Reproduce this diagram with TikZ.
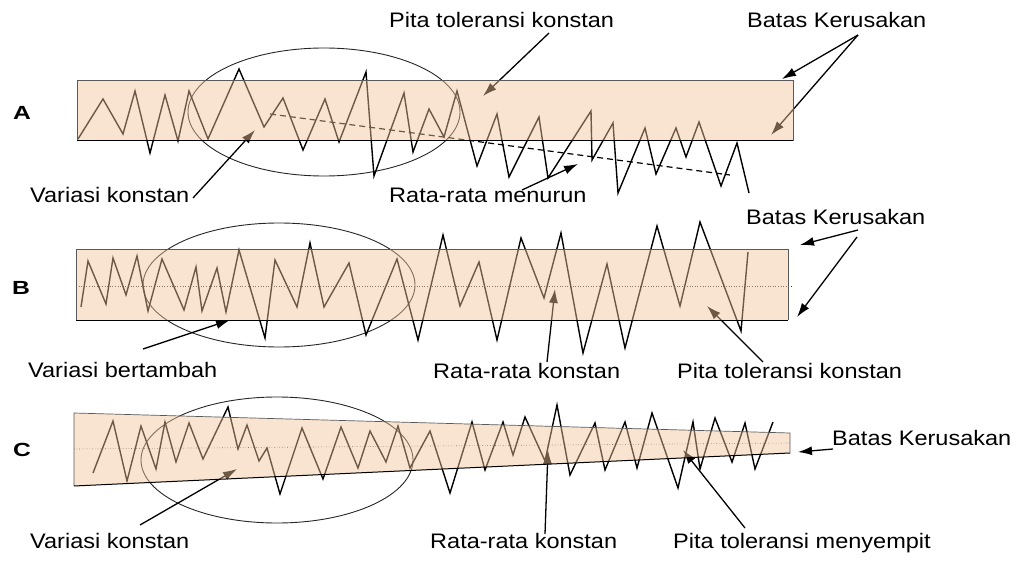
\documentclass[tikz,border=0pt]{standalone}
\usepackage{fontspec}
\setmainfont{Liberation Sans}
\newfontfamily\labfont[FakeStretch=1.12]{Liberation Sans}
\newfontfamily\letfont[FakeStretch=1.3]{Liberation Sans}
\usetikzlibrary{arrows.meta}
\definecolor{bandc}{RGB}{239,196,152}
\begin{document}
\begin{tikzpicture}[x=1pt,y=-1pt,
  lab/.style={anchor=base west, inner sep=0pt, font=\labfont\fontsize{21}{25}\selectfont},
  letter/.style={inner sep=0pt, font=\letfont\bfseries\fontsize{19}{22}\selectfont},
  zz/.style={line width=1.4pt},
  ell/.style={line width=0.9pt, black!85},
  arr/.style={line width=1.3pt, -{Latex[length=14pt,width=9pt]}},
  band/.style={fill=bandc, fill opacity=0.46},
  edge/.style={draw=black!65, line width=0.7pt},
  midl/.style={dotted, line width=0.6pt, black!80},
]
\useasboundingbox (0,0) rectangle (1019,561);

% ---------- labels ----------
\node[letter] (LA) at (22,113) {A};
\node[letter] (LB) at (21,288) {B};
\node[letter] (LC) at (22,450) {C};

\node[lab] (tA1) at (389,28) {Pita toleransi konstan};
\node[lab] (tA2) at (747,28) {Batas Kerusakan};
\node[lab] (tA3) at (30,203) {Variasi konstan};
\node[lab] (tA4) at (389,203) {Rata-rata menurun};

\node[lab] (tB1) at (746,225) {Batas Kerusakan};
\node[lab] (tB2) at (28,377) {Variasi bertambah};
\node[lab] (tB3) at (433,378) {Rata-rata konstan};
\node[lab] (tB4) at (677,378) {Pita toleransi konstan};

\node[lab] (tC1) at (832,445) {Batas Kerusakan};
\node[lab] (tC2) at (30,548) {Variasi konstan};
\node[lab] (tC3) at (430,548) {Rata-rata konstan};
\node[lab] (tC4) at (673,548) {Pita toleransi menyempit};

% ---------- arrow coordinates ----------
\coordinate (sA1) at (549,33);  \coordinate (hA1) at (483,96);
\coordinate (sA2) at (858,35);  \coordinate (hA2a) at (782,79); \coordinate (hA2b) at (771,135);
\coordinate (sA3) at (193,198); \coordinate (hA3) at (255,130);
\coordinate (sA4) at (522,190); \coordinate (hA4) at (578,164);

\coordinate (sB1a) at (858,230); \coordinate (hB1a) at (800,245);
\coordinate (sB1b) at (857,237); \coordinate (hB1b) at (797,317);
\coordinate (sB2) at (143,349);  \coordinate (hB2) at (230,320);
\coordinate (sB3) at (547,362);  \coordinate (hB3) at (555,289);
\coordinate (sB4) at (763,362);  \coordinate (hB4) at (707,306);

\coordinate (sC1) at (833,449);  \coordinate (hC1) at (798,452);
\coordinate (sC2) at (140,525);  \coordinate (hC2) at (237,469);
\coordinate (sC3) at (545,534);  \coordinate (hC3) at (548,450);
\coordinate (sC4) at (745,528);  \coordinate (hC4) at (683,450);

% ---------- panel A ----------
\draw[ell] (324,112) ellipse [x radius=136pt, y radius=64pt];
\draw[zz] (78,139)--(103,99)--(123,134)--(135,91)--(150,153)--(165,95)--(178,141)--(189,91)--(208,139)--(239,69)--(264,127)--(283,98)--(303,150)--(325,99)--(339,142)--(366,72)--(374,176)--(404,93)--(413,152)--(429,109)--(444,137)--(457,91)--(477,166)--(497,114)--(509,177)--(539,117)--(548,178)--(591,111)--(592,160)--(613,123)--(618,193)--(645,128)--(656,174)--(676,128)--(686,157)--(699,122)--(721,186)--(737,143)--(749,193);
\draw[line width=1.2pt, dash pattern=on 6pt off 4pt] (270,114) -- (730,175);
\draw[arr] (sA1) -- (hA1);
\draw[arr] (sA2) -- (hA2a);
\draw[arr] (sA2) -- (hA2b);
\draw[arr] (sA3) -- (hA3);
\draw[arr] (sA4) -- (hA4);

% ---------- panel B ----------
\draw[ell] (279,285) ellipse [x radius=136pt, y radius=62pt];
\draw[midl] (76,286) -- (793,286);
\draw[zz] (81,307)--(88,261)--(106,304)--(113,258)--(126,295)--(137,256)--(148,311)--(162,259)--(184,310)--(196,267)--(202,311)--(217,268)--(226,312)--(239,250)--(265,338)--(275,260)--(297,307)--(310,243)--(324,307)--(349,263)--(366,335)--(397,259)--(418,340)--(443,235)--(460,306)--(479,262)--(497,340)--(521,238)--(544,298)--(561,233)--(583,353)--(607,264)--(625,348)--(657,226)--(680,306)--(700,222)--(741,331)--(748,252);
\draw[arr] (sB1a) -- (hB1a);
\draw[arr] (sB1b) -- (hB1b);
\draw[arr] (sB2) -- (hB2);
\draw[arr] (sB3) -- (hB3);
\draw[arr] (sB4) -- (hB4);

% ---------- panel C ----------
\draw[ell] (277,460) ellipse [x radius=136pt, y radius=63pt];
\draw[midl] (74,449) -- (790,443);
\draw[zz] (93,473)--(113,421)--(127,481)--(141,426)--(156,469)--(165,422)--(176,462)--(189,423)--(203,459)--(228,407)--(238,449)--(247,425)--(259,461)--(267,448)--(280,494)--(302,428)--(323,479)--(341,427)--(358,468)--(370,431)--(386,462)--(398,426)--(410,468)--(430,431)--(450,493)--(472,422)--(485,470)--(503,422)--(513,455)--(525,417)--(545,461)--(557,405)--(570,475)--(595,423)--(605,470)--(625,422)--(637,468)--(652,413)--(678,488)--(693,422)--(700,469)--(715,418)--(732,462)--(745,423)--(755,469)--(773,422);
\draw[arr] (sC1) -- (hC1);
\draw[arr] (sC2) -- (hC2);
\draw[arr] (sC3) -- (hC3);
\draw[arr] (sC4) -- (hC4);

% ---------- translucent bands ----------
\fill[band] (77,80) rectangle (793,141);
\fill[band] (76,249) rectangle (788,320);
\fill[band] (74,413) -- (790,433) -- (790,453) -- (74,486) -- cycle;

\draw[edge] (77,141) -- (77,80) -- (793,80) -- (793,141);
\draw[line width=1pt] (77,141) -- (793,141);
\draw[edge] (76,320) -- (76,249) -- (788,249) -- (788,320);
\draw[line width=1pt] (76,320) -- (788,320);
\draw[edge] (74,486) -- (74,413) -- (790,433) -- (790,453);
\draw[line width=1pt] (74,486) -- (790,453);
\end{tikzpicture}
\end{document}
